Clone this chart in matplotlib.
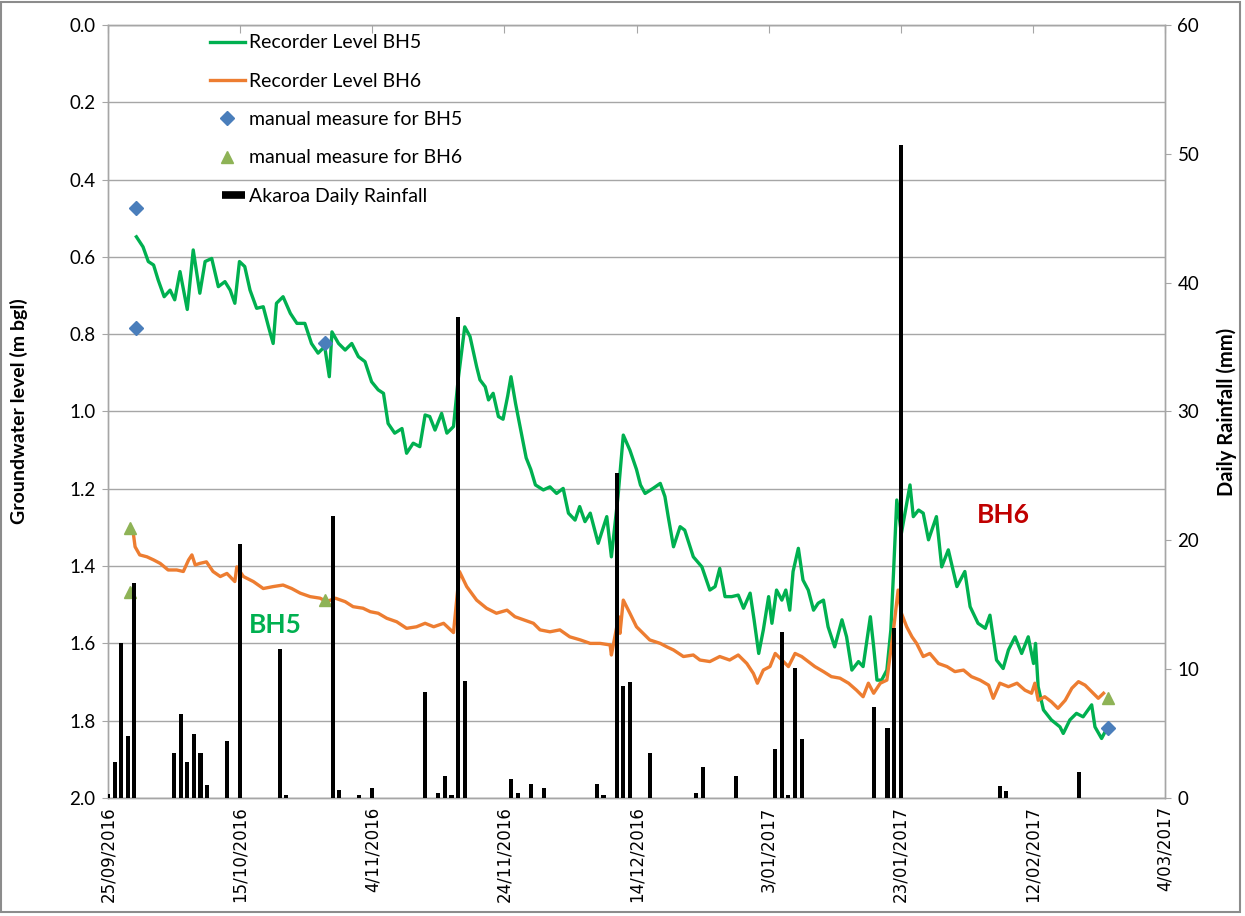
import matplotlib
matplotlib.use("Agg")
import matplotlib.pyplot as plt
from matplotlib.lines import Line2D
from matplotlib.patches import Rectangle
from matplotlib.legend_handler import HandlerBase
import pandas as pd
import numpy as np

start = pd.Timestamp("2016-09-25")

# Daily rainfall (day offset from 25/09/2016, mm)
rain_day = [0, 1, 2, 3, 4, 10, 11, 12, 13, 14, 15, 18, 20, 26, 27, 34, 35, 38, 40,
            48, 50, 51, 52, 53, 54, 61, 62, 64, 66, 74, 75, 77, 78, 79, 82, 89, 90,
            95, 101, 102, 103, 104, 105, 116, 118, 119, 120, 135, 136, 147]
rain_mm = [0.3, 2.8, 12.0, 4.8, 16.7, 3.5, 6.5, 2.8, 5.0, 3.5, 1.0, 4.4, 19.7, 11.6, 0.2,
           21.9, 0.6, 0.2, 0.75, 8.2, 0.4, 1.7, 0.2, 37.3, 9.1, 1.5, 0.4, 1.1, 0.75,
           1.1, 0.2, 25.2, 8.7, 9.0, 3.5, 0.4, 2.4, 1.7, 3.8, 12.9, 0.2, 10.1, 4.6,
           7.1, 5.4, 13.2, 50.7, 0.95, 0.55, 2.0]

# Recorder level BH5 (day offset, m bgl)
bh5_day = [4.3, 5.3, 6.1, 6.9, 7.6, 8.5, 9.4, 10.1, 10.9, 12.0, 12.9, 13.9, 14.7, 15.7,
           16.7, 17.7, 18.5, 19.2, 19.9, 20.7, 21.5, 22.5, 23.5, 24.3, 25.0, 25.5, 26.5,
           27.6, 28.6, 29.8, 30.8, 31.8, 32.8, 33.5, 33.9, 34.9, 35.9, 36.9, 37.9, 38.9,
           39.9, 40.9, 41.7, 42.4, 43.4, 44.5, 45.2, 46.2, 47.2, 48.0, 48.7, 49.5, 50.5,
           51.3, 52.3, 53.0, 54.0, 54.8, 55.8, 56.3, 57.1, 57.6, 58.3, 59.1, 59.8, 60.5,
           61.0, 61.7, 62.5, 63.3, 64.0, 64.7, 65.9, 66.9, 67.9, 68.9, 69.7, 70.7, 71.4,
           72.2, 73.0, 74.2, 75.5, 76.2, 77.2, 78.0, 79.0, 80.0, 80.6, 81.3, 82.5, 83.6,
           84.3, 84.8, 85.6, 86.6, 87.3, 88.6, 89.9, 91.1, 91.9, 92.6, 93.4, 94.4, 95.4,
           96.2, 97.2, 97.8, 98.5, 99.2, 100.0, 100.5, 101.2, 102.0, 102.6, 103.2, 103.7,
           104.5, 105.2, 106.0, 106.8, 107.5, 108.3, 109.0, 110.0, 111.1, 111.8, 112.6,
           113.6, 114.3, 115.4, 115.9, 116.4, 117.1, 117.9, 118.5, 118.9, 119.4, 120.1,
           121.4, 121.9, 122.7, 123.4, 124.2, 125.4, 126.2, 127.2, 128.5, 129.7, 130.5,
           131.7, 132.8, 133.5, 134.5, 135.5, 136.3, 137.3, 138.3, 139.3, 140.1, 140.4,
           140.8, 141.6, 142.8, 144.1, 144.6, 145.6, 146.6, 147.6, 148.9, 149.4, 150.4,
           151.2]
bh5_lvl = [0.548, 0.574, 0.612, 0.621, 0.660, 0.703, 0.686, 0.711, 0.638, 0.736, 0.582,
           0.694, 0.612, 0.604, 0.677, 0.664, 0.686, 0.720, 0.612, 0.625, 0.686, 0.733,
           0.729, 0.781, 0.824, 0.720, 0.703, 0.746, 0.772, 0.772, 0.824, 0.849, 0.832,
           0.910, 0.794, 0.824, 0.841, 0.824, 0.858, 0.871, 0.923, 0.944, 0.953, 1.031,
           1.056, 1.044, 1.108, 1.082, 1.091, 1.009, 1.013, 1.048, 1.005, 1.056, 1.039,
           0.918, 0.781, 0.806, 0.884, 0.918, 0.936, 0.970, 0.953, 1.013, 1.020, 0.960,
           0.910, 0.980, 1.050, 1.120, 1.150, 1.190, 1.203, 1.195, 1.212, 1.199, 1.263,
           1.281, 1.246, 1.285, 1.263, 1.341, 1.272, 1.376, 1.220, 1.061, 1.100, 1.150,
           1.190, 1.212, 1.199, 1.186, 1.220, 1.272, 1.350, 1.298, 1.307, 1.376, 1.402,
           1.462, 1.453, 1.406, 1.479, 1.479, 1.475, 1.509, 1.470, 1.539, 1.626, 1.565,
           1.479, 1.548, 1.462, 1.488, 1.462, 1.514, 1.414, 1.354, 1.436, 1.462, 1.514,
           1.496, 1.488, 1.557, 1.609, 1.539, 1.583, 1.669, 1.647, 1.660, 1.531, 1.609,
           1.695, 1.695, 1.669, 1.565, 1.419, 1.229, 1.315, 1.190, 1.272, 1.255, 1.263,
           1.332, 1.272, 1.402, 1.358, 1.453, 1.414, 1.505, 1.548, 1.561, 1.527, 1.643,
           1.665, 1.617, 1.583, 1.626, 1.583, 1.652, 1.600, 1.712, 1.772, 1.798, 1.816,
           1.833, 1.798, 1.781, 1.790, 1.759, 1.816, 1.846, 1.820]

# Recorder level BH6 (day offset, m bgl)
bh6_day = [3.8, 4.1, 4.8, 5.9, 6.9, 7.9, 9.1, 10.4, 11.4, 12.2, 12.7, 13.2, 13.9, 14.9,
           15.9, 17.0, 18.0, 19.2, 19.5, 20.5, 22.0, 23.5, 25.0, 26.5, 27.8, 29.1, 30.6,
           32.1, 33.1, 34.4, 35.9, 37.1, 38.6, 39.7, 40.9, 42.2, 43.7, 45.2, 46.7, 48.0,
           49.3, 50.8, 52.3, 53.2, 54.3, 55.8, 57.3, 58.8, 60.4, 61.6, 62.9, 64.4, 65.4,
           66.9, 68.4, 69.9, 71.5, 73.0, 74.5, 76.0, 76.2, 77.3, 77.5, 78.0, 79.0, 80.0,
           81.0, 82.0, 83.6, 84.6, 85.6, 87.1, 88.6, 89.6, 91.1, 92.6, 94.1, 95.4, 96.7,
           97.7, 98.3, 99.2, 100.2, 101.0, 102.0, 103.0, 104.0, 105.0, 106.0, 107.0,
           108.3, 109.5, 110.8, 112.1, 113.3, 114.3, 115.1, 115.9, 116.9, 117.9, 118.9,
           119.6, 120.1, 120.9, 121.7, 122.4, 123.4, 124.4, 125.7, 127.0, 128.2, 129.5,
           130.7, 132.0, 133.3, 134.0, 135.0, 136.3, 137.6, 138.8, 139.8, 140.3, 140.8,
           141.8, 142.8, 143.8, 144.9, 145.9, 146.9, 147.9, 148.9, 149.9, 150.7]
bh6_lvl = [1.311, 1.350, 1.371, 1.376, 1.384, 1.393, 1.410, 1.410, 1.414, 1.384, 1.371,
           1.397, 1.393, 1.389, 1.414, 1.427, 1.419, 1.440, 1.402, 1.427, 1.440, 1.458,
           1.453, 1.449, 1.458, 1.470, 1.479, 1.483, 1.492, 1.483, 1.492, 1.505, 1.509,
           1.518, 1.522, 1.535, 1.544, 1.561, 1.557, 1.548, 1.557, 1.548, 1.572, 1.414,
           1.453, 1.488, 1.509, 1.522, 1.514, 1.531, 1.539, 1.548, 1.565, 1.570, 1.565,
           1.583, 1.591, 1.600, 1.600, 1.604, 1.630, 1.531, 1.574, 1.488, 1.522, 1.557,
           1.574, 1.591, 1.600, 1.609, 1.617, 1.634, 1.630, 1.643, 1.647, 1.634, 1.643,
           1.630, 1.652, 1.678, 1.703, 1.669, 1.660, 1.626, 1.643, 1.660, 1.626, 1.634,
           1.647, 1.660, 1.673, 1.686, 1.690, 1.703, 1.721, 1.738, 1.703, 1.729, 1.703,
           1.695, 1.565, 1.462, 1.522, 1.557, 1.583, 1.600, 1.634, 1.626, 1.652, 1.660,
           1.673, 1.669, 1.686, 1.695, 1.708, 1.742, 1.703, 1.712, 1.703, 1.721, 1.729,
           1.703, 1.747, 1.738, 1.751, 1.768, 1.747, 1.716, 1.699, 1.708, 1.725, 1.742,
           1.729]

# Manual measurements
man5_day = [4.2, 4.2, 32.8, 151.4]
man5_lvl = [0.473, 0.784, 0.822, 1.820]
man6_day = [3.3, 3.3, 32.8, 151.4]
man6_lvl = [1.301, 1.467, 1.487, 1.742]

labels = ["Recorder Level BH5", "Recorder Level BH6", "manual measure for BH5",
          "manual measure for BH6", "Akaroa Daily Rainfall"]


def to_dates(days):
    return [start + pd.Timedelta(days=float(d)) for d in days]


class ShortBarHandler(HandlerBase):
    def create_artists(self, legend, orig_handle, xdescent, ydescent, width,
                       height, fontsize, trans):
        y = height / 2 - ydescent
        ln = Line2D([-xdescent + 0.34 * width, -xdescent + width], [y, y],
                    color="black", lw=5.5, solid_capstyle="butt")
        ln.set_transform(trans)
        return [ln]


plt.rcParams['font.family'] = ['Lato', 'DejaVu Sans']

fig = plt.figure(figsize=(12.45, 9.16), dpi=100)
ax = fig.add_axes([108 / 1245, 1 - 798 / 916, (1165 - 108) / 1245, (798 - 25) / 916])
ax2 = ax.twinx()

grid_c = "#A6A6A6"
l5, = ax.plot(to_dates(bh5_day), bh5_lvl, color="#00B050", lw=2.4, zorder=3)
l6, = ax.plot(to_dates(bh6_day), bh6_lvl, color="#ED7D31", lw=2.4, zorder=3)
m5, = ax.plot(to_dates(man5_day), man5_lvl, ls="none", marker="D", ms=7,
              color="#4A7EBB", zorder=4)
m6, = ax.plot(to_dates(man6_day), man6_lvl, ls="none", marker="^", ms=9,
              color="#8EB356", zorder=4)

ax2.bar(to_dates(rain_day), rain_mm, width=0.62, color="black", zorder=3)

ax.set_ylim(2.0, 0.0)
ax.set_yticks(np.arange(0, 2.01, 0.2))
ax.set_yticklabels([f"{v:.1f}" for v in np.arange(0, 2.01, 0.2)])
ax.yaxis.grid(True, color=grid_c, lw=1.0)
ax.set_axisbelow(True)

ax2.set_ylim(0, 60)
ax2.set_yticks(range(0, 61, 10))

xmin = start
xmax = start + pd.Timedelta(days=160)
ax.set_xlim(xmin, xmax)
ticks = [start + pd.Timedelta(days=20 * i) for i in range(9)]
ax.set_xticks(ticks)
ax.set_xticklabels([f"{t.day}/{t.month:02d}/{t.year}" for t in ticks], rotation=90,
                   fontsize=12, family=['DejaVu Sans'])
ax.tick_params(axis='x', top=True, bottom=False, labeltop=False, labelbottom=True,
               direction='in', length=6, color=grid_c, pad=6)
ax.tick_params(axis='y', labelsize=13.5, color=grid_c, length=4, pad=5)
ax2.tick_params(axis='y', labelsize=13.5, color=grid_c, length=4, pad=5)

for a in (ax, ax2):
    for s in a.spines.values():
        s.set_color(grid_c)
        s.set_linewidth(1.0)

ax.set_ylabel("Groundwater level (m bgl)", fontsize=14, fontweight="bold", labelpad=30)
ax2.set_ylabel("Daily Rainfall (mm)", fontsize=14.5, fontweight="bold", labelpad=12)

bar_handle = Line2D([0], [0], color="black", lw=5)
leg = ax2.legend([l5, l6, m5, m6, bar_handle], labels, loc="upper left",
                 bbox_to_anchor=(0.089, 0.998), frameon=False, fontsize=14,
                 labelspacing=1.1, handlelength=1.8, handletextpad=0.2,
                 borderaxespad=0.0, handler_map={bar_handle: ShortBarHandler()})

ax.text(start + pd.Timedelta(days=25.3), 1.552, "BH5", color="#00B050",
        fontsize=19, fontweight="bold", ha="center", va="center", zorder=5)
ax.text(start + pd.Timedelta(days=135.5), 1.268, "BH6", color="#C00000",
        fontsize=19, fontweight="bold", ha="center", va="center", zorder=5)

fig.patches.append(Rectangle((0.001, 0.004), 0.995, 0.994, transform=fig.transFigure,
                             fill=False, edgecolor="#8C8C8C", lw=1.5))

fig.savefig("out.png", dpi=100)
